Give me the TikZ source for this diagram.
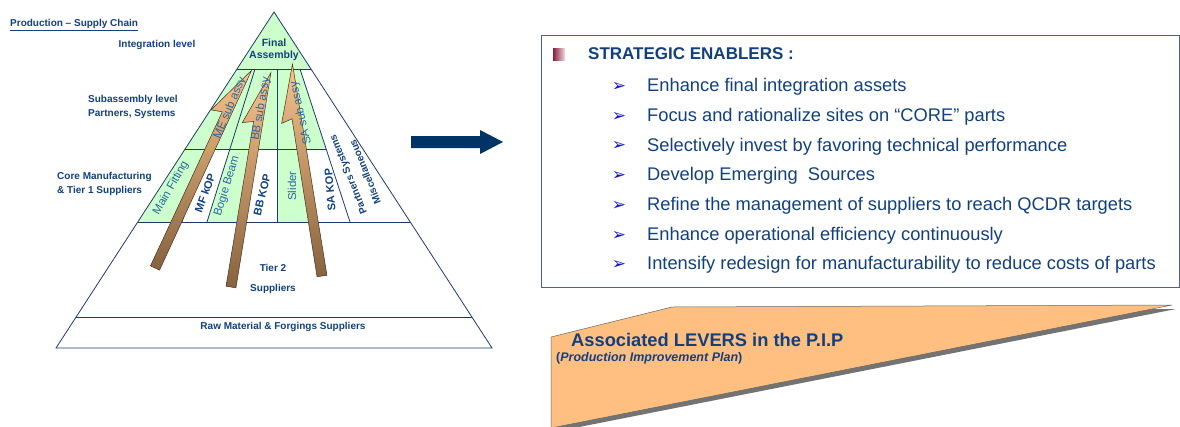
\documentclass[tikz,border=0pt]{standalone}
\usepackage{fontspec}
\setmainfont{Liberation Sans}
\newfontfamily\symfont{DejaVu Sans}
\usetikzlibrary{calc}
\definecolor{navy}{HTML}{12407F}
\definecolor{steel}{HTML}{2A66A0}
\definecolor{pyrline}{HTML}{1F3A68}
\definecolor{grn}{HTML}{CCFFCC}
\definecolor{tanc}{HTML}{F9C48C}
\definecolor{brownc}{HTML}{86623E}
\definecolor{levers}{HTML}{FFBF80}
\definecolor{bigarr}{HTML}{003366}
\definecolor{boxline}{HTML}{4A6585}
\definecolor{bul}{HTML}{1414C8}
\definecolor{maroon}{HTML}{8C1C3C}

\begin{document}
\begin{tikzpicture}[x=1pt, y=-1pt,
  pyr/.style={draw=pyrline, line width=0.8pt},
  lvl/.style={font=\bfseries\fontsize{10}{14}\selectfont, text=navy, inner sep=0pt},
  part/.style={font=\bfseries\fontsize{11}{12}\selectfont, text=navy, inner sep=0pt},
  lite/.style={font=\fontsize{11.5}{12}\selectfont, text=steel, inner sep=0pt},
  item/.style={font=\fontsize{18.3}{20}\selectfont, text=navy, anchor=west, inner sep=0pt},
  bullet/.style={font=\symfont\fontsize{17}{18}\selectfont, text=bul, inner sep=0pt}]
%      \draw [help lines] (0,0) grid[step=20] (1180,426);
      \useasboundingbox (0,0) rectangle (1180,426);

      % pyramid
      \coordinate (apex) at (274,12);
      \coordinate (bl) at (56,348);
      \coordinate (br) at (492,348);

      \fill [grn] (apex) -- (237,69) -- (311,69) -- cycle;
      \fill [grn] (237,69) -- (300,69) -- (326,149) -- (185,149) -- cycle;
      \fill [grn] (185,149) -- (205,149) -- (182,222) -- (138,222) -- cycle;
      \fill [grn] (230,149) -- (253,149) -- (242,222) -- (207,222) -- cycle;
      \fill [grn] (277,149) -- (302,149) -- (314,222) -- (277,222) -- cycle;

      \draw [pyr] (apex) -- (bl) -- (br) -- cycle;
      \draw [pyr] (237,69) -- (311,69);
      \draw [pyr] (185,149) -- (326,149);
      \draw [pyr] (138,222) -- (410,222);
      \draw [pyr] (76,317) -- (472,317);
      \draw [pyr] (205,149) -- (182,222);
      \draw [pyr] (255,69) -- (207,222);
      \draw [pyr] (253,149) -- (242,222);
      \draw [pyr] (277,69) -- (277,222);
      \draw [pyr] (302,149) -- (314,222);
      \draw [pyr] (300,69) -- (350,222);

      % level names
      \node [lvl, anchor=west] (title) at (10,25) {\underline{Production – Supply Chain}};
      \node [lvl] (integ) at (157,45) {Integration level};
      \node [lvl, anchor=west, align=left] (subasm) at (88,107) {Subassembly level\\Partners, Systems};
      \node [lvl, anchor=west, align=left] (core) at (57,184) {Core Manufacturing\\\& Tier 1 Suppliers};
      \node [lvl, align=center, font=\bfseries\fontsize{10.5}{12}\selectfont] (final) at (274,50) {Final\\Assembly};
      \node [lvl] (tier2) at (273,268) {Tier 2};
      \node [lvl] (supp) at (273,289) {Suppliers};
      \node [lvl] (raw) at (283,327) {Raw Material \& Forgings Suppliers};

      % parts of the core level
      \node [lite, rotate=60] (mainfit) at (171,188) {Main Fitting};
      \node [part, rotate=70] (mfkop) at (205,193) {MF kOP};
      \node [lite, rotate=73] (bogie) at (227,186) {Bogie Beam};
      \node [part, rotate=76] (bbkop) at (262,195) {BB KOP};
      \node [lite, rotate=90] (slider) at (292,186) {Slider};
      \node [part, rotate=95] (sakop) at (330,190) {SA KOP};
      \node [part, rotate=112, font=\bfseries\fontsize{10}{11}\selectfont] (partners) at (349,174) {Partners Systems};
      \node [part, rotate=112, font=\bfseries\fontsize{10}{11}\selectfont] (misc) at (365,172) {Miscellaneous};

      % sub assy arrows
      \foreach \bx/\by/\ang/\len/\brb in {155/268/65/220/167, 231/287/80.5/218/164, 322/276/99/214/157}{
        \begin{scope}[shift={(\bx,\by)}, rotate=\ang]
          \shade [top color=tanc, bottom color=brownc, draw=brownc!50!black, line width=0.5pt]
            (0,5) -- (\len,4) -- (\brb,-16) -- (\brb+3,-5) -- (0,-5) -- cycle;
        \end{scope}
      }
      \node [lite, rotate=67] (mesub) at (230,108) {ME sub assy};
      \node [lite, rotate=80] (bbsub) at (261,109) {BB sub assy};
      \node [lite, rotate=103] (sasub) at (301,113) {SA sub assy};

      % arrow to the enablers
      \fill [bigarr] (411,136) -- (480,136) -- (480,130) -- (503,142) -- (480,154) -- (480,148) -- (411,148) -- cycle;

      % strategic enablers
      \draw [boxline, line width=0.8pt] (541,35) rectangle (1179,287);
      \shade [left color=maroon, right color=maroon!15] (553,48) rectangle (565,60);
      \node [item, font=\bfseries\fontsize{17}{20}\selectfont] (enablers) at (588,54) {STRATEGIC ENABLERS :};
      \foreach \t [count=\i] in {Enhance final integration assets,
          Focus and rationalize sites on “CORE” parts,
          Selectively invest by favoring technical performance,
          Develop Emerging\ \ Sources,
          Refine the management of suppliers to reach QCDR targets,
          Enhance operational efficiency continuously,
          Intensify redesign for manufacturability to reduce costs of parts}{
        \node [bullet] (bu\i) at (619,{87+(\i-1)*29.7}) {➢};
        \node [item] (en\i) at (647,{87+(\i-1)*29.7}) {\t};
      }

      % levers
      \fill [black!55] (554,341) -- (675,311) -- (1176,309) -- (554,432) -- cycle;
      \filldraw [fill=levers, draw=black!60, line width=0.5pt] (551,337) -- (672,307) -- (1172,305) -- (551,428) -- cycle;
      \node [item, font=\bfseries\fontsize{18.3}{20}\selectfont] (levers) at (571,340) {Associated LEVERS in the P.I.P};
      \node [item, font=\bfseries\fontsize{12.5}{14}\selectfont] (pip) at (556,358) {(\textit{Production Improvement Plan})};

    \end{tikzpicture}
\end{document}
